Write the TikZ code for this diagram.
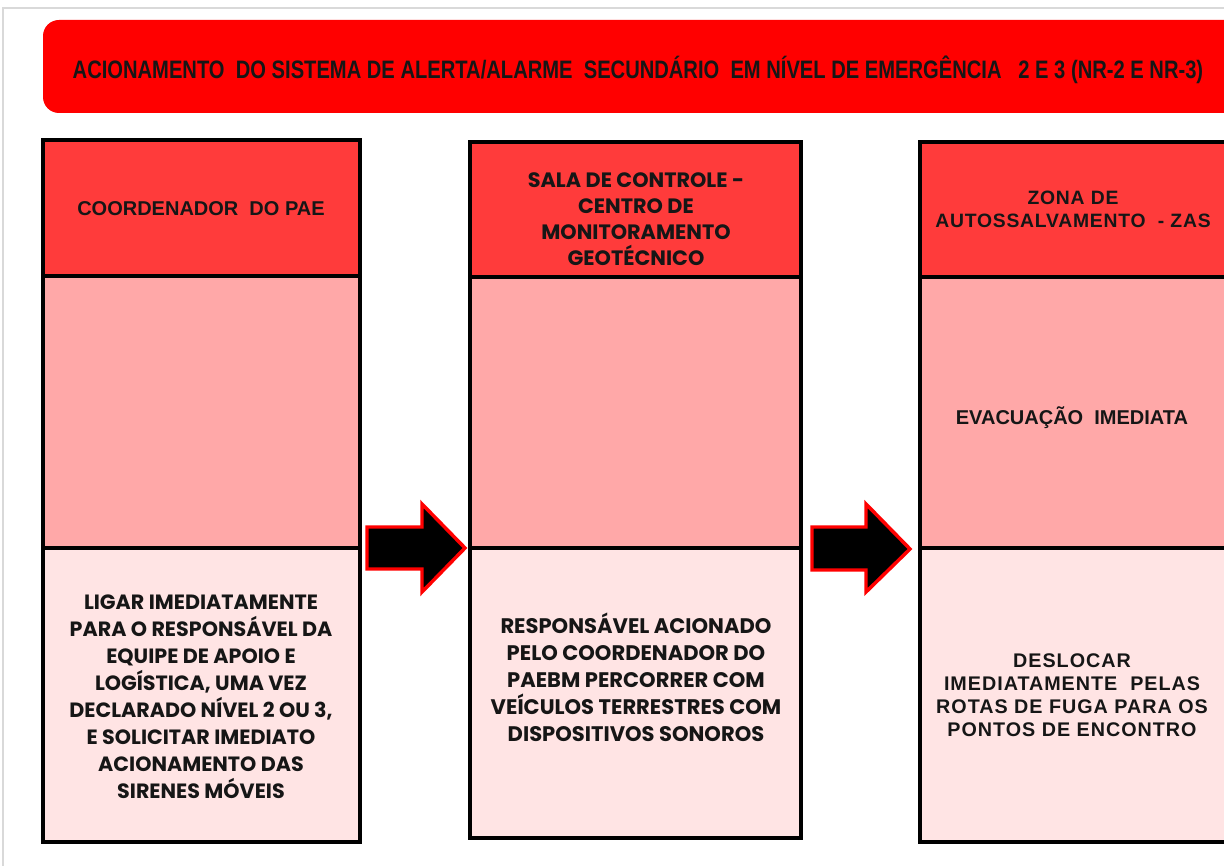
\documentclass[tikz,border=0pt]{standalone}
\usepackage{fontspec}
\setmainfont{Liberation Sans}
\newfontfamily\ttlfont[FakeStretch=0.8]{Liberation Sans}
\newfontfamily\popfont{Poppins}
\newfontfamily\arifont{Liberation Sans}
\newfontfamily\arisp[LetterSpace=4]{Liberation Sans}
\newfontfamily\arispb[LetterSpace=5]{Liberation Sans}
\definecolor{ttlred}{HTML}{FF0000}
\definecolor{hdr}{HTML}{FF3B3B}
\definecolor{midc}{HTML}{FFA8A8}
\definecolor{lowc}{HTML}{FFE4E4}
\definecolor{ink}{HTML}{161616}
\begin{document}
\begin{tikzpicture}[x=0.75pt,y=-0.75pt,
  frameline/.style={draw=black, line width=2.3pt},
  ttltext/.style={font=\ttlfont\bfseries\fontsize{18.9}{22}\selectfont, text=ink, inner sep=0pt},
  hdrtext/.style={font=\arifont\bfseries\fontsize{15}{17.25}\selectfont, text=ink, align=center, inner sep=0pt},
  hdrsptext/.style={font=\arisp\bfseries\fontsize{14.5}{17.25}\selectfont, text=ink, align=center, inner sep=0pt},
  lowsptext/.style={font=\arispb\bfseries\fontsize{14.8}{17.25}\selectfont, text=ink, align=center, inner sep=0pt},
  poptext/.style={font=\popfont\bfseries\fontsize{15.5}{20.25}\selectfont, text=ink, align=center, inner sep=0pt},
  blockarrow/.style={fill=black, draw=red, line width=2.6pt, line join=miter}]
\useasboundingbox (0,0) rectangle (1224,866);
\clip (0,0) rectangle (1224,866);
\fill[white] (0,0) rectangle (1224,866);
\draw[black!15, line width=1pt] (3,866) -- (3,8) -- (1224,8);
% title bar
\fill[ttlred, rounded corners=12pt] (43,20) rectangle (1260,113);
\node[ttltext] (title) at (638,70) {ACIONAMENTO~ DO SISTEMA DE ALERTA/ALARME~ SECUND\'ARIO~ EM N\'IVEL DE EMERG\^ENCIA~~ 2 E 3 (NR-2 E NR-3)};
% column 1
\fill[hdr] (43,140) rectangle (360,276);
\fill[midc] (43,276) rectangle (360,548);
\fill[lowc] (43,548) rectangle (360,842);
\draw[frameline] (43,140) rectangle (360,842);
\draw[frameline] (43,276) -- (360,276);
\draw[frameline] (43,548) -- (360,548);
% column 2
\fill[hdr] (470,142) rectangle (801,277);
\fill[midc] (470,277) rectangle (801,548);
\fill[lowc] (470,548) rectangle (801,838);
\draw[frameline] (470,142) rectangle (801,838);
\draw[frameline] (470,277) -- (801,277);
\draw[frameline] (470,548) -- (801,548);
% column 3
\fill[hdr] (920,142) rectangle (1250,277);
\fill[midc] (920,277) rectangle (1250,548);
\fill[lowc] (920,548) rectangle (1250,842);
\draw[frameline] (920,142) rectangle (1250,842);
\draw[frameline] (920,277) -- (1250,277);
\draw[frameline] (920,548) -- (1250,548);
% texts
\node[hdrtext] (h1) at (201,209) {COORDENADOR~ DO PAE};
\node[poptext] (b1) at (201,697) {LIGAR IMEDIATAMENTE\\PARA O RESPONS\'AVEL DA\\EQUIPE DE APOIO E\\LOG\'ISTICA, UMA VEZ\\DECLARADO N\'IVEL 2 OU 3,\\E SOLICITAR IMEDIATO\\ACIONAMENTO DAS\\SIRENES M\'OVEIS};
\node[poptext, font=\popfont\bfseries\fontsize{15.6}{19.5}\selectfont] (h2) at (636,219) {SALA DE CONTROLE -\\CENTRO DE\\MONITORAMENTO\\GEOT\'ECNICO};
\node[poptext, font=\popfont\bfseries\fontsize{15.8}{20.25}\selectfont] (b2) at (636,677) {RESPONS\'AVEL ACIONADO\\PELO COORDENADOR DO\\PAEBM PERCORRER COM\\VE\'ICULOS TERRESTRES COM\\DISPOSITIVOS SONOROS};
\node[hdrsptext] (h3) at (1073,209) {ZONA DE\\AUTOSSALVAMENTO~ - ZAS};
\node[hdrtext] (m3) at (1072,418) {EVACUA\c{C}\~AO~ IMEDIATA};
\node[lowsptext] (b3) at (1072,695) {DESLOCAR\\IMEDIATAMENTE~ PELAS\\ROTAS DE FUGA PARA OS\\PONTOS DE ENCONTRO};
% block arrows
\path[blockarrow] (367,527) -- (422,527) -- (422,504) -- (465,548) -- (422,592) -- (422,569) -- (367,569) -- cycle;
\path[blockarrow] (812,527) -- (866,527) -- (866,504) -- (910,549) -- (866,592) -- (866,570) -- (812,570) -- cycle;
\end{tikzpicture}
\end{document}
